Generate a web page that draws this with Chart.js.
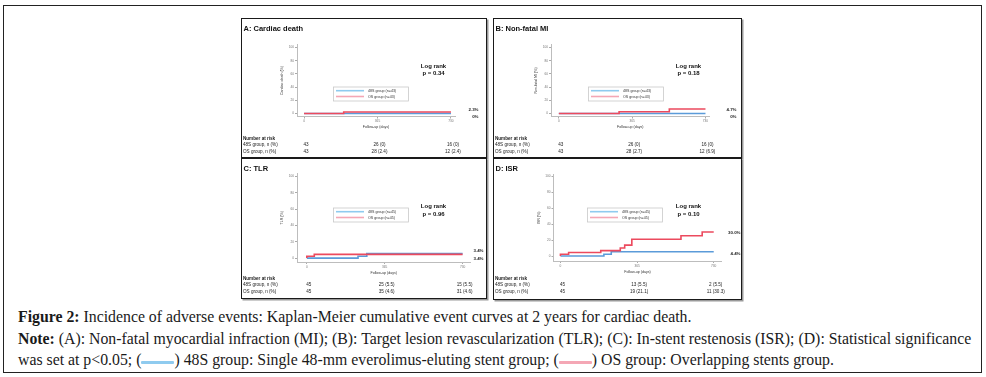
<!DOCTYPE html>
<html>
<head>
<meta charset="utf-8">
<script src="https://cdn.jsdelivr.net/npm/chart.js@4.4.1/dist/chart.umd.min.js"></script>
<style>
  html, body { margin: 0; padding: 0; background: #fff; }
  body { width: 986px; height: 377px; position: relative; overflow: hidden; }
  #frame { position: absolute; left: 3px; top: 5px; width: 979px; height: 368px; border: 1px solid #222; box-sizing: border-box; }
  .panel { position: absolute; border: 1.5px solid #1a1a1a; box-shadow: 1.5px 1.5px 0 #999; box-sizing: border-box; background: #fff; }
  .panel canvas { position: absolute; left: -1.5px; top: -1.5px; }
  .cap { position: absolute; left: 18px; font-family: "Liberation Serif", "DejaVu Serif", serif; font-size: 15.8px; line-height: 20px; color: #1a1a1a; white-space: nowrap; }
  .cap b { font-weight: bold; }
  .sw { display: inline-block; width: 33px; height: 3px; vertical-align: 1px; border-radius: 1px; }
</style>
</head>
<body>
<div id="frame"></div>
<div class="panel" style="left:241px;top:18px;width:246px;height:140px"><canvas id="chartA" width="246" height="140"></canvas></div>
<div class="panel" style="left:493px;top:18px;width:249px;height:140px"><canvas id="chartB" width="249" height="140"></canvas></div>
<div class="panel" style="left:241px;top:158px;width:246px;height:141px"><canvas id="chartC" width="246" height="141"></canvas></div>
<div class="panel" style="left:493px;top:158px;width:249px;height:142px"><canvas id="chartD" width="249" height="142"></canvas></div>

<div class="cap" style="top:307px"><b>Figure 2:</b> Incidence of adverse events: Kaplan-Meier cumulative event curves at 2 years for cardiac death.</div>
<div class="cap" style="top:329px"><b>Note:</b> (A): Non-fatal myocardial infraction (MI); (B): Target lesion revascularization (TLR); (C): In-stent restenosis (ISR); (D): Statistical significance</div>
<div class="cap" style="top:350px">was set at p&lt;0.05; (<span class="sw" style="background:#8fcbef"></span>) 48S group: Single 48-mm everolimus-eluting stent group; (<span class="sw" style="background:#f4a7b5"></span>) OS group: Overlapping stents group.</div>

<script>
// tick values shared by all four panels
const xTicks = [0, 365, 730];
const yTicks = [0, 20, 40, 60, 80, 100];
const riskDays = [0, 365, 730];

// A: cardiac death
const aDays48 = [0, 730];
const aPct48 = [0, 0];
const aDaysOS = [0, 197, 730];
const aPctOS = [0, 2.4, 2.4];
const aRisk48 = ['43', '26 (0)', '16 (0)'];
const aRiskOS = ['43', '28 (2.4)', '12 (2.4)'];
const aEndLabels = ['2.3%', '0%'];

// B: non-fatal MI
const bDays48 = [0, 730];
const bPct48 = [0, 0];
const bDaysOS = [0, 300, 550, 730];
const bPctOS = [0, 2.7, 6.9, 6.9];
const bRisk48 = ['43', '26 (0)', '16 (0)'];
const bRiskOS = ['43', '28 (2.7)', '12 (6.9)'];
const bEndLabels = ['4.7%', '0%'];

// C: TLR
const cDays48 = [0, 240, 281, 730];
const cPct48 = [0, 2.2, 5.5, 5.5];
const cDaysOS = [0, 0, 35, 730];
const cPctOS = [0, 2.2, 4.6, 4.6];
const cRisk48 = ['45', '25 (5.5)', '15 (5.5)'];
const cRiskOS = ['45', '35 (4.6)', '31 (4.6)'];
const cEndLabels = ['3.4%', '3.4%'];

// D: ISR
const dDays48 = [0, 207, 242, 730];
const dPct48 = [0, 2.2, 5.5, 5.5];
const dDaysOS = [0, 0, 39, 192, 285, 306, 340, 574, 675, 730];
const dPctOS = [0, 2.2, 4.4, 6.9, 10.2, 13.8, 21.1, 25.6, 30.3, 30.3];
const dRisk48 = ['45', '13 (5.5)', '2 (5.5)'];
const dRiskOS = ['45', '19 (21.1)', '11 (30.3)'];
const dEndLabels = ['30.0%', '4.4%'];

const SANS = '"Liberation Sans", Arial, sans-serif';
const BLUE = '#5b9bd9';
const RED = '#ec4a5e';

// draws the panel title, log rank text, legend box, end labels and risk table
const panelDecor = {
  id: 'panelDecor',
  afterDraw(chart, args, o) {
    const ctx = chart.ctx;
    const xs = chart.scales.x;
    ctx.save();
    ctx.textBaseline = 'middle';
    ctx.fillStyle = '#111';

    ctx.font = 'bold 7.5px ' + SANS;
    ctx.textAlign = 'left';
    ctx.fillText(o.title, 2.5, o.titleY);

    ctx.font = 'bold 6px ' + SANS;
    ctx.textAlign = 'center';
    ctx.fillText('Log rank', o.logX, o.logY);
    ctx.fillText('p = ' + o.p, o.logX, o.logY + 7.4);

    const lg = o.legend;
    ctx.fillStyle = '#fff';
    ctx.fillRect(lg.x, lg.y, 75, 14);
    ctx.strokeStyle = '#c9c9c9';
    ctx.lineWidth = 0.8;
    ctx.strokeRect(lg.x + 0.5, lg.y + 0.5, 75, 14);
    ctx.lineWidth = 1.6;
    ctx.strokeStyle = '#8fcbef';
    ctx.beginPath(); ctx.moveTo(lg.x + 3, lg.y + 4.2); ctx.lineTo(lg.x + 31, lg.y + 4.2); ctx.stroke();
    ctx.strokeStyle = '#f4a7b5';
    ctx.beginPath(); ctx.moveTo(lg.x + 3, lg.y + 10); ctx.lineTo(lg.x + 31, lg.y + 10); ctx.stroke();
    ctx.fillStyle = '#333';
    ctx.font = '3.6px ' + SANS;
    ctx.textAlign = 'left';
    ctx.fillText('48S group (n=' + o.n + ')', lg.x + 35, lg.y + 4.2);
    ctx.fillText('OS group (n=' + o.n + ')', lg.x + 35, lg.y + 10);

    ctx.fillStyle = '#222';
    ctx.font = 'bold 4.4px ' + SANS;
    ctx.textAlign = 'right';
    ctx.fillText(o.ends[0], o.endX, o.endY[0]);
    ctx.fillText(o.ends[1], o.endX, o.endY[1]);

    ctx.textAlign = 'left';
    ctx.font = 'bold 4.6px ' + SANS;
    ctx.fillText('Number at risk', 2, o.tableY);
    ctx.font = '4.6px ' + SANS;
    ctx.fillText('48S group, n (%)', 2, o.tableY + 6.6);
    ctx.fillText('OS group, n (%)', 2, o.tableY + 13.2);
    ctx.textAlign = 'center';
    riskDays.forEach((d, i) => {
      const px = xs.getPixelForValue(d) + 2;
      ctx.fillText(o.risk48[i], px, o.tableY + 6.6);
      ctx.fillText(o.riskOS[i], px, o.tableY + 13.2);
    });
    ctx.restore();
  }
};

function toPoints(days, vals) {
  return days.map((d, i) => ({ x: d, y: vals[i] }));
}

function makePanel(id, p) {
  const ctx = document.getElementById(id).getContext('2d');
  return new Chart(ctx, {
    type: 'line',
    data: {
      datasets: [
        {
          label: 'OS group',
          data: toPoints(p.daysOS, p.pctOS),
          borderColor: RED,
          borderWidth: 1.6,
          pointRadius: 0,
          stepped: 'before',
          fill: false,
          order: 0,
        },
        {
          label: '48S group',
          data: toPoints(p.days48, p.pct48),
          borderColor: BLUE,
          borderWidth: 1.6,
          pointRadius: 0,
          stepped: 'before',
          fill: false,
          order: 1,
        },
      ],
    },
    options: {
      responsive: false,
      animation: false,
      events: [],
      layout: { padding: p.pad },
      scales: {
        x: {
          type: 'linear',
          min: p.xRange[0],
          max: p.xRange[1],
          afterBuildTicks: s => { s.ticks = xTicks.map(v => ({ value: v })); },
          afterFit: s => { s.height = 14; },
          ticks: { font: { size: 3.2, family: SANS }, color: '#777', padding: 1, maxRotation: 0, autoSkip: false },
          grid: { display: true, drawOnChartArea: false, tickLength: 2, color: '#aaa' },
          border: { color: '#bdbdbd', width: 1 },
          title: { display: true, text: 'Follow-up (days)', font: { size: 3.6, family: SANS }, color: '#333', padding: { top: 1, bottom: 1 } },
        },
        y: {
          min: p.yRange[0],
          max: p.yRange[1],
          afterBuildTicks: s => { s.ticks = yTicks.map(v => ({ value: v })); },
          afterFit: s => { s.width = 18; },
          ticks: { font: { size: 3.2, family: SANS }, color: '#777', padding: 1 },
          grid: { display: true, drawOnChartArea: false, tickLength: 2, color: '#aaa' },
          border: { color: '#bdbdbd', width: 1 },
          title: { display: true, text: p.yTitle, font: { size: 3.6, family: SANS }, color: '#333', padding: { top: 1, bottom: 1 } },
        },
      },
      plugins: {
        legend: { display: false },
        tooltip: { enabled: false },
        panelDecor: p.decor,
      },
    },
    plugins: [panelDecor],
  });
}

makePanel('chartA', {
  days48: aDays48, pct48: aPct48, daysOS: aDaysOS, pctOS: aPctOS,
  yTitle: 'Cardiac death (%)',
  xRange: [-35, 750], yRange: [-4.5, 104.5],
  pad: { left: 38, right: 32, top: 26.5, bottom: 27.5 },
  decor: {
    title: 'A: Cardiac death', titleY: 11, logX: 192.5, logY: 48, p: '0.34', n: 43,
    legend: { x: 92, y: 68.5 }, ends: aEndLabels, endX: 237.5, endY: [91.5, 98.5],
    risk48: aRisk48, riskOS: aRiskOS, tableY: 120.5,
  },
});

makePanel('chartB', {
  days48: bDays48, pct48: bPct48, daysOS: bDaysOS, pctOS: bPctOS,
  yTitle: 'Non-fatal MI (%)',
  xRange: [-39, 750], yRange: [-4.5, 104.5],
  pad: { left: 40, right: 32.5, top: 26.5, bottom: 27.5 },
  decor: {
    title: 'B: Non-fatal MI', titleY: 11, logX: 195.5, logY: 48, p: '0.18', n: 43,
    legend: { x: 95, y: 68.5 }, ends: bEndLabels, endX: 243.5, endY: [91.5, 98.5],
    risk48: bRisk48, riskOS: bRiskOS, tableY: 120.5,
  },
});

makePanel('chartC', {
  days48: cDays48, pct48: cPct48, daysOS: cDaysOS, pctOS: cPctOS,
  yTitle: 'TLR (%)',
  xRange: [-46, 767], yRange: [-4.8, 103.6],
  pad: { left: 38, right: 16.5, top: 15.5, bottom: 23 },
  decor: {
    title: 'C: TLR', titleY: 10.5, logX: 192.5, logY: 48.5, p: '0.96', n: 45,
    legend: { x: 92, y: 49.5 }, ends: cEndLabels, endX: 242.5, endY: [92.5, 100.5],
    risk48: cRisk48, riskOS: cRiskOS, tableY: 120.5,
  },
});

makePanel('chartD', {
  days48: dDays48, pct48: dPct48, daysOS: dDaysOS, pctOS: dPctOS,
  yTitle: 'ISR (%)',
  xRange: [-33, 767], yRange: [-6.2, 102.5],
  pad: { left: 42.5, right: 20.5, top: 16.5, bottom: 25 },
  decor: {
    title: 'D: ISR', titleY: 10.5, logX: 195.5, logY: 48.5, p: '0.10', n: 45,
    legend: { x: 94, y: 49.5 }, ends: dEndLabels, endX: 247.5, endY: [74.5, 95.5],
    risk48: dRisk48, riskOS: dRiskOS, tableY: 120.5,
  },
});
</script>
</body>
</html>
